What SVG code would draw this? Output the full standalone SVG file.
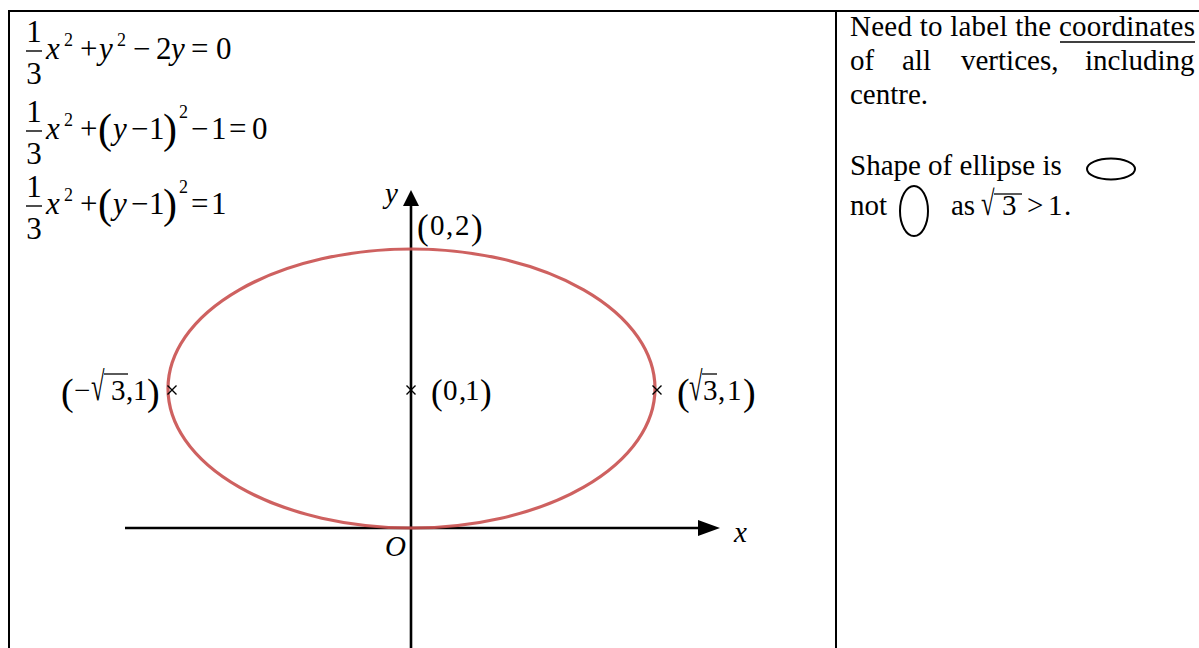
<svg xmlns="http://www.w3.org/2000/svg" width="1199" height="648" viewBox="0 0 1199 648">
<style>
text{font-family:"Liberation Serif","Times New Roman",serif;fill:#000;font-size:29px}
.eq text{font-size:31px}
.eq .sup{font-size:18px}
.eq .ep{font-size:42px}
.i{font-style:italic}
.par{font-size:35px}
.big{font-size:38px}
.bar{stroke:#000;stroke-width:1.4}
.vin{stroke:#000;stroke-width:1.3}
.ax{stroke:#000;stroke-width:2.6;fill:none}
.cr{stroke:#000;stroke-width:1.4}
.sh{fill:none;stroke:#000;stroke-width:2}
</style>
<rect width="1199" height="648" fill="#fff"/>
<g id="table">
<line x1="8" y1="11" x2="1199" y2="11" stroke="#000" stroke-width="2"/>
<line x1="9" y1="10" x2="9" y2="648" stroke="#000" stroke-width="2"/>
<line x1="836" y1="10" x2="836" y2="648" stroke="#000" stroke-width="2"/>
</g>
<g id="eq1" class="eq">
<text x="34" y="42" text-anchor="middle">1</text>
<line class="bar" x1="26" y1="51" x2="42" y2="51"/>
<text x="34" y="84" text-anchor="middle">3</text>
<text x="46" y="59" class="i">x</text>
<text x="64" y="46" class="sup">2</text>
<text x="80" y="59">+</text>
<text x="99" y="59" class="i">y</text>
<text x="117" y="46" class="sup">2</text>
<text x="133" y="59">−</text>
<text x="156" y="59">2</text>
<text x="171" y="59" class="i">y</text>
<text x="191" y="59">=</text>
<text x="216" y="59">0</text>
</g>
<g id="eq2" class="eq">
<text x="34" y="122" text-anchor="middle">1</text>
<line class="bar" x1="26" y1="131" x2="42" y2="131"/>
<text x="34" y="164" text-anchor="middle">3</text>
<text x="46" y="139" class="i">x</text>
<text x="64" y="126" class="sup">2</text>
<text x="80" y="139">+</text>
<text x="98" y="143" class="ep">(</text>
<text x="113" y="139" class="i">y</text>
<text x="131" y="139">−</text>
<text x="149" y="139">1</text>
<text x="163" y="143" class="ep">)</text>
<text x="179" y="118" class="sup">2</text>
<text x="191" y="139">−</text>
<text x="211" y="139">1</text>
<text x="229" y="139">=</text>
<text x="252" y="139">0</text>
</g>
<g id="eq3" class="eq">
<text x="34" y="197" text-anchor="middle">1</text>
<line class="bar" x1="26" y1="206" x2="42" y2="206"/>
<text x="34" y="239" text-anchor="middle">3</text>
<text x="46" y="214" class="i">x</text>
<text x="64" y="201" class="sup">2</text>
<text x="80" y="214">+</text>
<text x="98" y="218" class="ep">(</text>
<text x="113" y="214" class="i">y</text>
<text x="131" y="214">−</text>
<text x="149" y="214">1</text>
<text x="163" y="218" class="ep">)</text>
<text x="179" y="193" class="sup">2</text>
<text x="191" y="214">=</text>
<text x="211" y="214">1</text>
</g>
<g id="axes">
<line class="ax" x1="411" y1="648" x2="411" y2="204"/>
<polygon points="411,190 403,206 419,206" fill="#000"/>
<line class="ax" x1="125" y1="528" x2="702" y2="528"/>
<polygon points="720,528 698,520 698,536" fill="#000"/>
<text x="734" y="542" class="i">x</text>
<text x="385" y="203" class="i">y</text>
<text x="385" y="556" class="i">O</text>
</g>
<g id="ellipse">
<ellipse cx="411.5" cy="388.5" rx="243.5" ry="139.5" fill="none" stroke="#C9504F" stroke-width="3.2" stroke-opacity="0.9"/>
</g>
<g id="crosses">
<path class="cr" d="M167.5,385.5 l9,9 M176.5,385.5 l-9,9"/>
<path class="cr" d="M406.5,385.5 l9,9 M415.5,385.5 l-9,9"/>
<path class="cr" d="M652.5,385.5 l9,9 M661.5,385.5 l-9,9"/>
</g>
<g id="label-top">
<text x="417" y="239" class="par">(</text>
<text x="430" y="235">0</text>
<text x="446" y="235">,</text>
<text x="455" y="235">2</text>
<text x="471" y="239" class="par">)</text>
</g>
<g id="label-centre">
<text x="431" y="404" class="par">(</text>
<text x="443" y="400">0</text>
<text x="459" y="400">,</text>
<text x="465" y="400">1</text>
<text x="480" y="404" class="par">)</text>
</g>
<g id="label-left">
<text x="61" y="405" class="big">(</text>
<text x="74" y="400">−</text>
<text transform="translate(91,400) scale(0.85,1.4)" x="0" y="0">√</text>
<line class="vin" x1="104" y1="374" x2="128" y2="374"/>
<text x="111" y="400">3</text>
<text x="126" y="400">,</text>
<text x="133" y="400">1</text>
<text x="147" y="405" class="big">)</text>
</g>
<g id="label-right">
<text x="677" y="405" class="big">(</text>
<text transform="translate(689,400) scale(0.85,1.4)" x="0" y="0">√</text>
<line class="vin" x1="702" y1="374" x2="717" y2="374"/>
<text x="703" y="400">3</text>
<text x="718" y="400">,</text>
<text x="727" y="400">1</text>
<text x="743" y="405" class="big">)</text>
</g>
<g id="notes">
<text x="850" y="36" textLength="345" lengthAdjust="spacing">Need to label the coordinates</text>
<line x1="1060" y1="42" x2="1195" y2="42" stroke="#000" stroke-width="1.5"/>
<text x="850" y="70">of</text>
<text x="902" y="70">all</text>
<text x="961" y="70">vertices,</text>
<text x="1085" y="70">including</text>
<text x="850" y="104">centre.</text>
<text x="850" y="175">Shape of ellipse is</text>
<ellipse class="sh" cx="1111" cy="169" rx="24" ry="10.5"/>
<text x="850" y="215">not</text>
<ellipse class="sh" cx="914" cy="211" rx="14" ry="25"/>
<text x="951" y="215">as</text>
<text transform="translate(981,215) scale(0.85,1.2)" x="0" y="0">√</text>
<line class="vin" x1="994" y1="194" x2="1022" y2="194"/>
<text x="1002" y="215">3</text>
<text x="1027" y="215">&gt;</text>
<text x="1048" y="215">1</text>
<text x="1064" y="215">.</text>
</g>
</svg>
